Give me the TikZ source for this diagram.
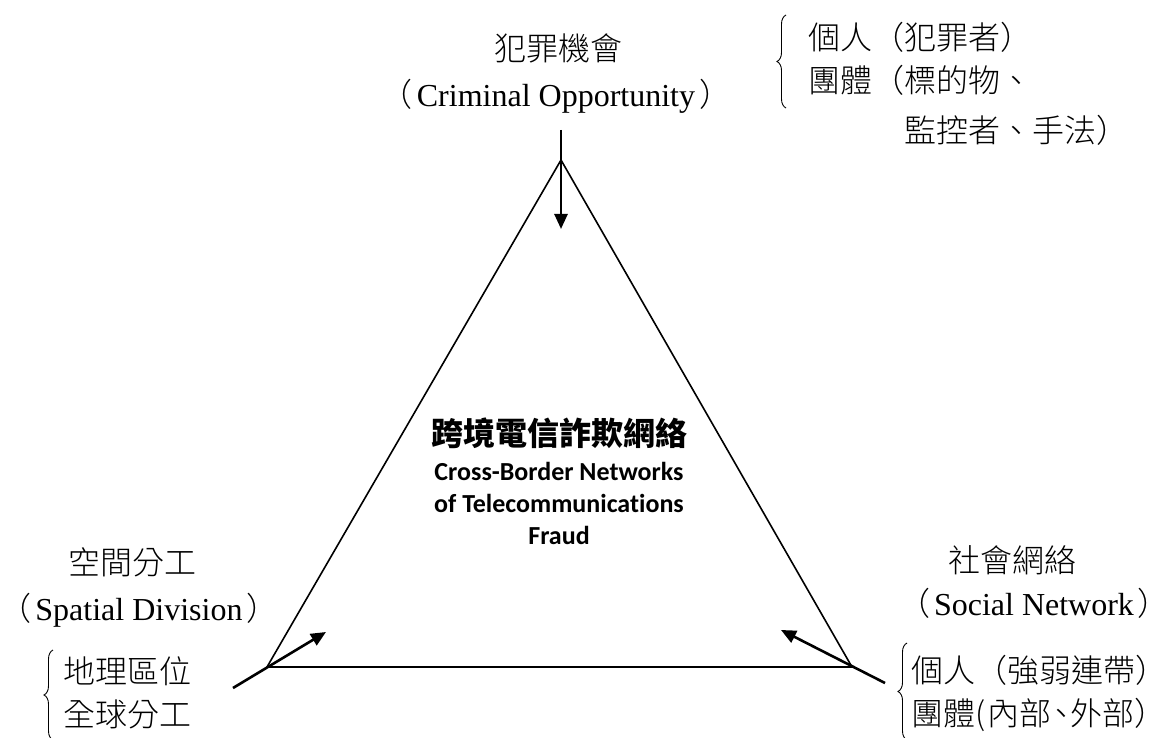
\documentclass[tikz,border=0pt]{standalone}
\usepackage{fontspec}
\setmainfont{Liberation Serif}
\newfontfamily\cjk{Noto Sans CJK TC Light}
\newfontfamily\cjkhead{Noto Sans CJK TC}
\newfontfamily\calibri[Ligatures=NoCommon]{Carlito}
\usetikzlibrary{arrows.meta,decorations.pathreplacing,positioning}
\newcommand{\cjkSize}{\fontsize{32}{43}\selectfont}
\newcommand{\engSize}{\fontsize{32}{36}\selectfont}
\newcommand{\lp}{{\cjk （}\hspace{4pt}}
\newcommand{\rp}{\hspace{4pt}{\cjk ）}}
\newcommand{\narrowComma}{\makebox[0.6em][l]{\hspace{-0.18em}、}}
\newcommand{\arrowWidth}{2.6pt}
\newcommand{\sideWidth}{1.6pt}

\begin{document}
\begin{tikzpicture}[x=1pt,y=-1pt,
    zhlabel/.style={inner sep=0pt,font=\cjk\cjkSize},
    enlabel/.style={inner sep=0pt,font=\engSize},
    itemlist/.style={inner sep=0pt,anchor=west,align=left,font=\cjk\cjkSize},
    pusharrow/.style={-{Triangle[length=15pt,width=13pt]},line width=\arrowWidth},
    bracket/.style={decorate,decoration={brace,amplitude=9pt},line width=0.9pt}]
\useasboundingbox (0,0) rectangle (1173,738);
% triangle
\coordinate (apex) at (561,160);
\coordinate (left) at (267,667);
\coordinate (right) at (852,667);
\draw[line width=\sideWidth,line join=miter] (apex) -- (right) -- (left) -- cycle;

% centre
\node[inner sep=0pt,font=\cjkhead\bfseries\fontsize{32}{36}\selectfont] (fraudzh) at (559,433) {跨境電信詐欺網絡};
\node[inner sep=0pt,align=center,font=\calibri\bfseries\fontsize{26}{32}\selectfont,below=13pt of fraudzh] (frauden)
  {Cross-Border Networks\\of Telecommunications\\Fraud};

% criminal opportunity
\node[zhlabel] (opportzh) at (558,48) {犯罪機會};
\node[enlabel] (opporten) at (556,96) {\lp Criminal Opportunity\rp};
\draw[bracket] (786,108) -- (786,15);
\node[itemlist] (opportlist) at (808,84) {個人（犯罪者）\\團體（標的物、\\[7pt]\hspace*{3em}監控者、手法）};
\coordinate (opportfrom) at (561,130);
\coordinate (opportto) at (561,229);
\draw[pusharrow] (opportfrom) -- (opportto);

% spatial division
\node[zhlabel] (spatialzh) at (132,562) {空間分工};
\node[enlabel] (spatialen) at (139,610) {\lp Spatial Division\rp};
\draw[bracket] (53,740) -- (53,650);
\node[itemlist] (spatiallist) at (63,693) {地理區位\\全球分工};
\coordinate (spatialfrom) at (233,688);
\coordinate (spatialto) at (326,632);
\draw[pusharrow] (spatialfrom) -- (spatialto);

% social network
\node[zhlabel] (socialzh) at (1012,560) {社會網絡};
\node[enlabel] (socialen) at (1034,603) {\lp Social Network\rp};
\draw[bracket] (907,740) -- (907,643);
\node[itemlist] (sociallist) at (911,693) {個人（強弱連帶）\\團體(\hspace{2pt}內部\narrowComma 外部）};
\coordinate (socialfrom) at (885,683);
\coordinate (socialto) at (781,630);
\draw[pusharrow] (socialfrom) -- (socialto);
\end{tikzpicture}
\end{document}
